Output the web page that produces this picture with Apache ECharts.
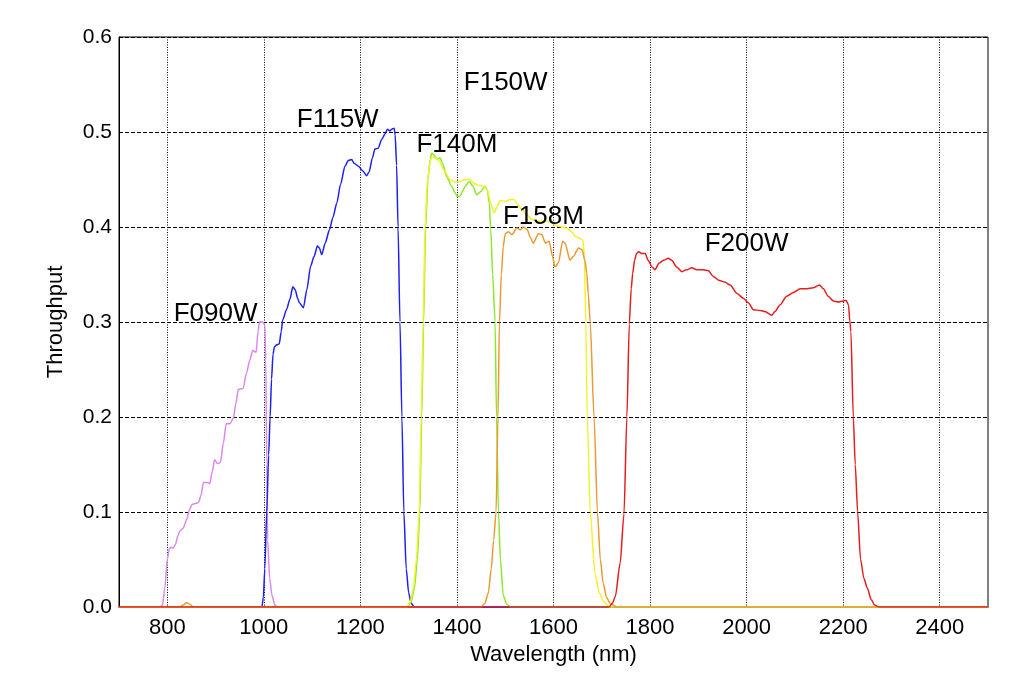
<!DOCTYPE html>
<html>
<head>
<meta charset="utf-8">
<script src="https://cdn.jsdelivr.net/npm/echarts@6/dist/echarts.min.js"></script>
<style>
html,body{margin:0;padding:0;background:#fff;}
#chart{width:1024px;height:683px;}
</style>
</head>
<body>
<div id="chart"></div>
<script>
// ---- data: [wavelength (nm), throughput] ----
const f090w = [[700,0],[785,0],[790,0.002],[795,0.02],[800,0.05],[804,0.061],[808,0.063],[812,0.062],[817,0.066],[822,0.075],[826,0.08],[833,0.083],[840,0.092],[846,0.102],[851,0.108],[858,0.109],[865,0.11],[870,0.118],[875,0.131],[882,0.131],[888,0.13],[893,0.142],[898,0.155],[904,0.151],[910,0.152],[916,0.172],[922,0.193],[930,0.193],[937,0.199],[942,0.214],[947,0.229],[957,0.23],[964,0.246],[971,0.26],[977,0.27],[984,0.268],[988,0.29],[991,0.3],[998,0.3],[1002,0.297],[1004,0.26],[1006,0.15],[1008,0.07],[1012,0.03],[1017,0.012],[1023,0.002],[1028,0],[2500,0]];
const f115w = [[700,0],[996,0],[999,0.01],[1002,0.04],[1006,0.1],[1010,0.16],[1013,0.2],[1016,0.24],[1019,0.266],[1022,0.274],[1027,0.276],[1032,0.277],[1036,0.29],[1039,0.302],[1047,0.313],[1054,0.324],[1060,0.337],[1065,0.334],[1070,0.325],[1074,0.32],[1082,0.315],[1089,0.334],[1097,0.359],[1104,0.369],[1111,0.38],[1115,0.378],[1120,0.371],[1127,0.383],[1136,0.397],[1143,0.41],[1151,0.425],[1159,0.445],[1168,0.464],[1175,0.47],[1182,0.471],[1187,0.467],[1196,0.464],[1205,0.459],[1213,0.454],[1218,0.458],[1225,0.473],[1230,0.482],[1237,0.483],[1244,0.492],[1251,0.498],[1256,0.503],[1261,0.501],[1265,0.503],[1270,0.504],[1272,0.497],[1275,0.465],[1278,0.4],[1282,0.3],[1286,0.2],[1290,0.1],[1295,0.04],[1300,0.015],[1305,0.004],[1312,0],[2500,0]];
const f140m = [[700,0],[1298,0],[1305,0.005],[1312,0.02],[1318,0.05],[1323,0.1],[1327,0.2],[1331,0.3],[1335,0.4],[1340,0.45],[1345,0.472],[1348,0.478],[1352,0.476],[1355,0.474],[1359,0.471],[1365,0.473],[1370,0.467],[1379,0.453],[1389,0.443],[1396,0.436],[1401,0.432],[1406,0.432],[1412,0.438],[1417,0.443],[1426,0.448],[1433,0.443],[1441,0.434],[1449,0.437],[1458,0.443],[1463,0.439],[1467,0.425],[1470,0.397],[1474,0.35],[1479,0.3],[1482,0.2],[1486,0.1],[1490,0.05],[1496,0.012],[1503,0.003],[1512,0],[2500,0]];
const f150w = [[700,0],[1296,0],[1303,0.005],[1310,0.02],[1316,0.05],[1322,0.1],[1326,0.2],[1330,0.3],[1334,0.4],[1339,0.45],[1344,0.468],[1348,0.474],[1355,0.473],[1364,0.469],[1373,0.46],[1386,0.45],[1396,0.447],[1407,0.448],[1417,0.45],[1427,0.45],[1435,0.446],[1444,0.444],[1455,0.443],[1463,0.439],[1470,0.425],[1477,0.415],[1484,0.422],[1489,0.428],[1500,0.427],[1510,0.429],[1518,0.429],[1525,0.424],[1534,0.419],[1545,0.413],[1555,0.408],[1570,0.406],[1585,0.406],[1595,0.405],[1607,0.401],[1627,0.399],[1640,0.394],[1645,0.39],[1655,0.388],[1661,0.386],[1664,0.37],[1667,0.3],[1670,0.2],[1676,0.1],[1686,0.035],[1695,0.015],[1703,0.006],[1717,0],[2500,0]];
const f158m = [[700,0],[826,0],[833,0.002],[840,0.0045],[847,0.003],[853,0],[1450,0],[1458,0.004],[1465,0.015],[1471,0.04],[1476,0.07],[1481,0.1],[1485,0.2],[1488,0.3],[1492,0.35],[1496,0.38],[1500,0.393],[1507,0.395],[1514,0.392],[1524,0.399],[1531,0.397],[1538,0.4],[1546,0.397],[1551,0.39],[1558,0.383],[1569,0.393],[1576,0.392],[1583,0.383],[1591,0.385],[1598,0.369],[1603,0.358],[1610,0.362],[1619,0.385],[1624,0.383],[1634,0.365],[1641,0.369],[1652,0.378],[1659,0.376],[1665,0.365],[1669,0.351],[1672,0.33],[1676,0.3],[1684,0.2],[1691,0.1],[1697,0.05],[1703,0.025],[1710,0.01],[1717,0.004],[1731,0],[2500,0]];
const f200w = [[700,0],[1715,0],[1722,0.004],[1728,0.011],[1738,0.046],[1746,0.098],[1752,0.2],[1757,0.298],[1761,0.335],[1764,0.351],[1768,0.365],[1772,0.372],[1776,0.374],[1783,0.372],[1790,0.372],[1796,0.365],[1804,0.358],[1810,0.355],[1819,0.362],[1828,0.365],[1838,0.367],[1845,0.365],[1855,0.358],[1866,0.353],[1876,0.355],[1886,0.357],[1897,0.355],[1910,0.355],[1921,0.354],[1931,0.348],[1942,0.344],[1955,0.342],[1966,0.339],[1980,0.33],[1993,0.325],[2004,0.32],[2014,0.313],[2028,0.312],[2038,0.311],[2052,0.307],[2059,0.311],[2069,0.318],[2083,0.327],[2097,0.331],[2111,0.335],[2125,0.335],[2138,0.336],[2151,0.339],[2159,0.335],[2169,0.327],[2180,0.322],[2190,0.321],[2200,0.322],[2206,0.323],[2211,0.318],[2214,0.3],[2216,0.29],[2221,0.2],[2225,0.15],[2230,0.1],[2236,0.05],[2243,0.03],[2250,0.02],[2258,0.008],[2265,0.002],[2275,0],[2500,0]];

const filterNames = ['F090W','F115W','F140M','F150W','F158M','F200W'];
const filterData = [f090w, f115w, f140m, f150w, f158m, f200w];
const filterColors = ['#d98ae8','#1f1ff0','#8ae82a','#f2f22a','#eb9a30','#e81c1c'];

// annotation anchors (wavelength, throughput) for each filter name
const labelX = [900, 1153, 1400, 1501, 1579, 2000];
const labelY = [0.309, 0.513, 0.486, 0.552, 0.411, 0.382];

const xTicks = [800, 1000, 1200, 1400, 1600, 1800, 2000, 2200, 2400];

const FONT = '"Liberation Sans", Arial, Helvetica, sans-serif';
const chart = echarts.init(document.getElementById('chart'), null, {renderer: 'canvas'});

const series = filterData.map((d, i) => ({
  name: filterNames[i],
  type: 'line',
  data: d,
  showSymbol: false,
  symbol: 'none',
  smooth: 0.25,
  smoothMonotone: 'x',
  lineStyle: {color: filterColors[i], width: 1.5},
  itemStyle: {color: filterColors[i]},
  z: 3 + i,
  animation: false
}));

series.push({
  name: 'labels',
  type: 'scatter',
  data: labelX.map((x, i) => [x, labelY[i], filterNames[i]]),
  symbolSize: 0,
  silent: true,
  z: 20,
  animation: false,
  itemStyle: {opacity: 1, color: '#000'},
  label: {
    show: true,
    position: [0, 0],
    align: 'center',
    verticalAlign: 'middle',
    formatter: p => p.data[2],
    color: '#000',
    opacity: 1,
    fontSize: 26,
    fontFamily: FONT
  }
});

chart.setOption({
  backgroundColor: '#fff',
  animation: false,
  grid: {left: 119, right: 36, top: 37, bottom: 76, show: true, borderColor: '#000', borderWidth: 1, backgroundColor: 'transparent'},
  xAxis: {
    type: 'value',
    min: 700,
    max: 2500,
    name: 'Wavelength (nm)',
    nameLocation: 'middle',
    nameGap: 33,
    nameTextStyle: {color: '#000', fontSize: 22, fontFamily: FONT},
    axisLine: {show: true, lineStyle: {color: '#000', width: 1}},
    axisTick: {show: false, customValues: xTicks},
    axisLabel: {customValues: xTicks, color: '#000', fontSize: 22, fontFamily: FONT, margin: 10, formatter: v => String(v)},
    splitLine: {show: true, lineStyle: {color: '#000', width: 1, type: [1, 1.5]}}
  },
  yAxis: {
    type: 'value',
    min: 0,
    max: 0.6,
    interval: 0.1,
    name: 'Throughput',
    nameLocation: 'middle',
    nameGap: 52,
    nameTextStyle: {color: '#000', fontSize: 22, fontFamily: FONT},
    axisLine: {show: true, lineStyle: {color: '#000', width: 1}},
    axisTick: {show: false},
    axisLabel: {color: '#000', fontSize: 21, fontFamily: FONT, margin: 7, formatter: v => v.toFixed(1)},
    splitLine: {show: true, lineStyle: {color: '#000', width: 1, type: [4, 2]}}
  },
  series: series
});
</script>
</body>
</html>
